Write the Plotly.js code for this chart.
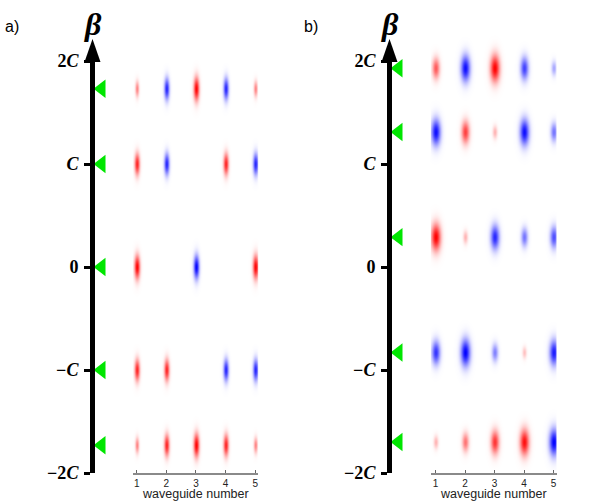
<!DOCTYPE html>
<html>
<head>
<meta charset="utf-8">
<script src="https://cdn.plot.ly/plotly-3.0.1.min.js"></script>
<style>
  html, body { margin: 0; padding: 0; background: #fff; }
  #chart { width: 604px; height: 501px; }
</style>
</head>
<body>
<div id="chart"></div>
<script>
// waveguide index and propagation constants (in units of C)
const waveguides = [1, 2, 3, 4, 5];
const betaTicks = [-2, -1, 0, 1, 2];
const betaTickText = ['<b>\u22122<i>C</i></b>', '<b>\u2212<i>C</i></b>', '<b>0</b>', '<b><i>C</i></b>', '<b>2<i>C</i></b>'];

// a) uniform array: eigenvalues and mode amplitudes (one row per mode)
const betaA = [1.73, 1, 0, -1, -1.73];
const ampA = [
  [0.5, -0.87, 1, -0.87, 0.5],
  [0.87, -0.87, 0, 0.87, -0.87],
  [1, 0, -1, 0, 1],
  [0.87, 0.87, 0, -0.87, -0.87],
  [0.5, 0.87, 1, 0.87, 0.5]
];

// b) disordered array
const betaB = [1.93, 1.31, 0.29, -0.83, -1.70];
const ampB = [
  [0.65, -0.95, 1, -0.75, -0.35],
  [-0.95, 0.75, 0.3, -0.95, -0.55],
  [1, 0.3, -0.85, -0.55, -0.7],
  [-0.8, -1, -0.5, 0.25, -0.9],
  [0.3, 0.55, 0.8, 0.95, -1]
];

const W = 604, H = 501;
const zeroPx = 267, pxPerC = 103;
const fx = p => p / W;
const fy = p => 1 - p / H;
const pxToBeta = p => (zeroPx - p) / pxPerC;

// panel geometry in pixels
const panels = [
  {beta: betaA, amp: ampA, lineX: 92.5, x1: 136.7, x5: 255.2, axL: 132.7, axR: 258.3, sx: 0.064, sy: 0.079, label: 'a)', labelX: 12},
  {beta: betaB, amp: ampB, lineX: 389.5, x1: 435.5, x5: 553.5, axL: 430.7, axR: 556.7, sx: 0.11, sy: 0.09, label: 'b)', labelX: 311}
];

const lineW = 5;
const topPx = 61, botPx = 473, axisBotPx = 473, heatTopPx = 18;

const traces = [];
const layout = {
  width: W, height: H,
  margin: {l: 0, r: 0, t: 0, b: 0},
  paper_bgcolor: '#fff', plot_bgcolor: 'rgba(0,0,0,0)',
  showlegend: false,
  hovermode: false,
  shapes: [],
  annotations: []
};

const colorscale = [[0, 'rgb(0,0,255)'], [0.5, 'rgb(255,255,255)'], [1, 'rgb(255,0,0)']];

panels.forEach((p, i) => {
  const n = 2 * i + 1, m = 2 * i + 2;
  const xl = 'x' + n, yl = 'y' + n, xh = 'x' + m, yh = 'y' + m;
  const leftX = 'xaxis' + (n === 1 ? '' : n), leftY = 'yaxis' + (n === 1 ? '' : n);
  const heatX = 'xaxis' + m, heatY = 'yaxis' + m;

  // left subplot carries the beta axis, 1 data unit = 1 px
  const domL = p.lineX + lineW / 2;
  layout[leftX] = {domain: [fx(domL), fx(domL + 34)], range: [0, 34], visible: false, fixedrange: true};
  layout[leftY] = {
    domain: [fy(botPx), fy(topPx)], range: [-2, 2], anchor: xl,
    showline: true, linecolor: '#000', linewidth: lineW,
    ticks: 'outside', ticklen: 6, tickwidth: 3, tickcolor: '#000',
    tickvals: betaTicks, ticktext: betaTickText, ticklabelstandoff: 2,
    tickfont: {family: 'Liberation Serif', size: 18, color: '#000'},
    showgrid: false, zeroline: false, fixedrange: true
  };

  // green markers at the eigenvalues
  traces.push({
    type: 'scatter', mode: 'markers', xaxis: xl, yaxis: yl,
    x: p.beta.map(() => 6.5), y: p.beta,
    marker: {symbol: 'triangle-left', size: 16, color: '#00e600', line: {width: 0}},
    cliponaxis: false
  });

  // arrow head on top of the beta axis
  layout.shapes.push({
    type: 'path', xref: 'paper', yref: 'paper',
    xsizemode: 'pixel', ysizemode: 'pixel', xanchor: fx(p.lineX), yanchor: fy(topPx),
    path: 'M-8,-1 L8,-1 L0,22 Z',
    fillcolor: '#000', line: {width: 0}
  });

  // heatmap subplot
  const ppu = (p.x5 - p.x1) / 4;
  const xr = [1 - (p.x1 - p.axL) / ppu, 5 + (p.axR - p.x5) / ppu];
  const yr = [pxToBeta(axisBotPx), pxToBeta(heatTopPx)];
  layout[heatX] = {
    domain: [fx(p.axL), fx(p.axR)], range: xr, anchor: yh,
    showline: true, linecolor: '#8a8a8a', linewidth: 1.5,
    ticks: 'inside', ticklen: 3, tickwidth: 1, tickcolor: '#666',
    tickvals: waveguides, ticktext: waveguides.map(String),
    tickfont: {family: 'Liberation Sans', size: 10, color: '#222'},
    showgrid: false, zeroline: false, fixedrange: true
  };
  layout[heatY] = {domain: [fy(axisBotPx), fy(heatTopPx)], range: yr, anchor: xh, visible: false, fixedrange: true};

  // blobs: each mode amplitude drawn as an elliptical gaussian spot
  const xs = [], ys = [];
  for (let x = xr[0]; x <= xr[1]; x += 0.5 / ppu) xs.push(x);
  for (let y = yr[0]; y <= yr[1]; y += 0.5 / pxPerC) ys.push(y);
  const z = ys.map(y => xs.map(x => {
    let s = 0;
    p.beta.forEach((b, k) => {
      p.amp[k].forEach((a, j) => {
        if (Math.abs(a) < 1e-3) return;
        const f = Math.pow(Math.abs(a), 0.6);
        const dx = (x - waveguides[j]) / (p.sx * f);
        const dy = (y - b) / (p.sy * f);
        s += a * Math.exp(-0.5 * (dx * dx + dy * dy));
      });
    });
    return s;
  }));
  traces.push({
    type: 'heatmap', xaxis: xh, yaxis: yh, x: xs, y: ys, z: z,
    colorscale: colorscale, zmin: -1, zmax: 1, showscale: false, zsmooth: 'best'
  });

  layout.annotations.push({
    xref: 'paper', yref: 'paper', x: fx((p.axL + p.axR) / 2), y: fy(493.5), xanchor: 'center', yanchor: 'middle',
    text: 'waveguide number', showarrow: false,
    font: {family: 'Liberation Sans', size: 12.5, color: '#222'}
  });
  layout.annotations.push({
    xref: 'paper', yref: 'paper', x: fx(p.lineX), y: fy(24), xanchor: 'center', yanchor: 'middle',
    text: '<b><i>\u03b2</i></b>', showarrow: false,
    font: {family: 'Liberation Serif', size: 32, color: '#000'}
  });
  layout.annotations.push({
    xref: 'paper', yref: 'paper', x: fx(p.labelX), y: fy(27), xanchor: 'center', yanchor: 'middle',
    text: p.label, showarrow: false,
    font: {family: 'Liberation Sans', size: 16, color: '#000'}
  });
});

Plotly.newPlot('chart', traces, layout, {staticPlot: true, displayModeBar: false});
</script>
</body>
</html>
